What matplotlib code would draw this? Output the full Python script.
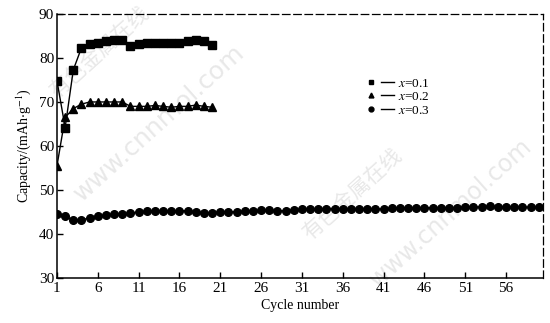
import matplotlib
matplotlib.use('Agg')
import matplotlib.pyplot as plt
from matplotlib.lines import Line2D
from matplotlib.legend_handler import HandlerTuple

plt.rcParams['font.family'] = ['Liberation Serif', 'DejaVu Serif']
plt.rcParams['mathtext.fontset'] = 'stix'

# discharge capacity per cycle for each composition
cycles_short = list(range(1, 21))
cycles_long = list(range(1, 61))
cap_x01 = [74.8, 64.2, 77.3, 82.3, 83.2, 83.5, 83.8, 84.0, 84.0, 82.8,
           83.2, 83.5, 83.3, 83.5, 83.5, 83.3, 83.8, 84.0, 83.8, 83.0]
cap_x02 = [55.5, 66.5, 68.5, 69.5, 70.0, 70.0, 70.0, 70.0, 70.0, 69.0,
           69.0, 69.0, 69.2, 69.0, 68.8, 69.0, 69.0, 69.3, 69.0, 68.8]
cap_x03 = [44.5, 44.0, 43.2, 43.3, 43.6, 44.0, 44.3, 44.5, 44.5, 44.8,
           45.0, 45.2, 45.3, 45.3, 45.3, 45.3, 45.3, 45.0, 44.8, 44.8,
           45.0, 45.0, 45.1, 45.2, 45.3, 45.4, 45.4, 45.3, 45.3, 45.5,
           45.6, 45.7, 45.7, 45.8, 45.8, 45.8, 45.8, 45.8, 45.8, 45.7,
           45.7, 45.9, 46.0, 45.9, 45.9, 46.0, 46.0, 46.0, 46.0, 46.0,
           46.1, 46.1, 46.2, 46.3, 46.2, 46.2, 46.1, 46.1, 46.1, 46.1]
labels = ['$x$=0.1', '$x$=0.2', '$x$=0.3']
xticks = list(range(1, 57, 5))
yticks = list(range(30, 91, 10))

fig = plt.figure(figsize=(5.5, 3.23), dpi=100)
ax = fig.add_axes([0.1036, 0.139, 0.8834, 0.818])
ax.patch.set_visible(False)

ax.plot(cycles_short, cap_x01, color='black', lw=1.0, marker='s', ms=5.5, zorder=3)
ax.plot(cycles_short, cap_x02, color='black', lw=1.0, marker='^', ms=5.5, zorder=3)
ax.plot(cycles_long, cap_x03, color='black', lw=1.0, marker='o', ms=5.5, zorder=3)

ax.set_xlim(1, 60.5)
ax.set_ylim(30, 90)
ax.set_xticks(xticks)
ax.set_yticks(yticks)
ax.tick_params(direction='in', length=4, width=1, labelsize=11, pad=2)
ax.tick_params(axis='x', pad=3)
for side in ['top', 'right']:
    ax.spines[side].set_linestyle((0, (6, 3)))
    ax.spines[side].set_linewidth(0.9)
for side in ['left', 'bottom']:
    ax.spines[side].set_linewidth(1.1)

ax.set_xlabel('Cycle number', fontsize=10, labelpad=3)
ax.set_ylabel(r'Capacity/(mAh$\cdot$g$^{-1}$)', fontsize=10, labelpad=4)

# legend: small marker, then a short dash, then the label
handles = []
for m in ['s', '^', 'o']:
    dot = Line2D([], [], color='black', marker=m, ms=3.5, ls='none')
    dash = Line2D([], [], color='black', lw=1.0)
    handles.append((dot, dash))
ax.legend(handles, labels, handler_map={tuple: HandlerTuple(ndivide=None, pad=0.3)},
          loc='upper left', bbox_to_anchor=(0.62, 0.785), frameon=False,
          fontsize=9.5, handlelength=2.2, handletextpad=0.3, labelspacing=0.1,
          borderpad=0)

# faint site watermark, kept behind the axes
wm = dict(color='#e8e8e8', rotation=42, zorder=-1, ha='center', va='center',
          transform=fig.transFigure)
fig.text(0.18, 0.84, '有色金属在线', fontsize=15,
         family=['Noto Sans CJK SC', 'DejaVu Sans'], **wm)
fig.text(0.29, 0.62, 'www.cnnmol.com', fontsize=18, family='DejaVu Sans', **wm)
fig.text(0.64, 0.40, '有色金属在线', fontsize=15,
         family=['Noto Sans CJK SC', 'DejaVu Sans'], **wm)
fig.text(0.82, 0.34, 'www.cnnmol.com', fontsize=17, family='DejaVu Sans', **wm)

fig.savefig('out.png', dpi=100)
